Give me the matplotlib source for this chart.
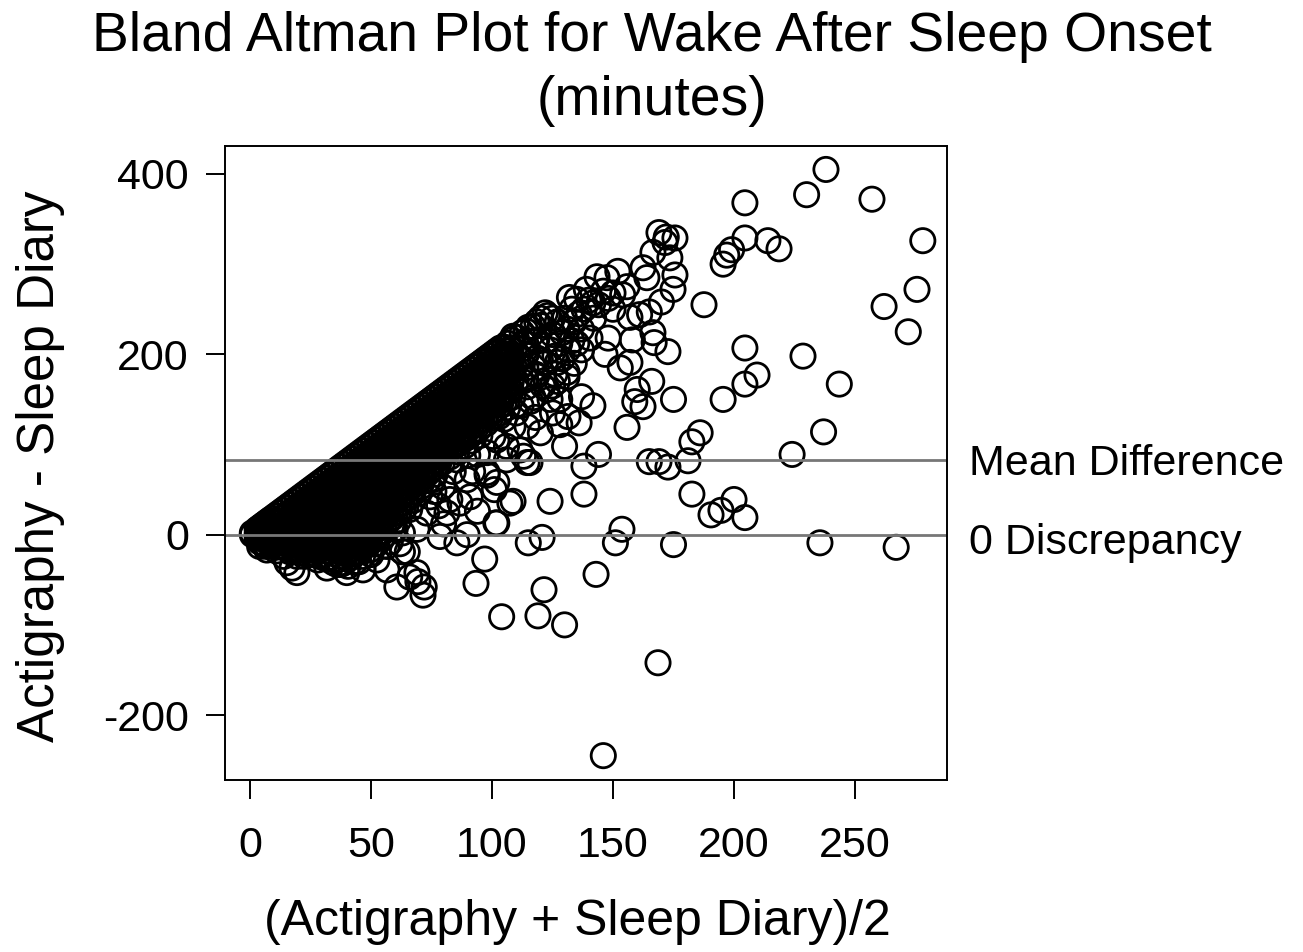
import matplotlib
matplotlib.use('Agg')
import matplotlib.pyplot as plt

title = 'Bland Altman Plot for Wake After Sleep Onset\n(minutes)'
xlabel = '(Actigraphy + Sleep Diary)/2'
ylabel = 'Actigraphy - Sleep Diary'
mean_diff = 83
xticks = [0, 50, 100, 150, 200, 250]
yticks = [-200, 0, 200, 400]

# black wedge, read by column: mean value and the differences found there
col_x = [1, 3, 5, 7, 9, 12, 15, 18, 21, 24, 27, 30, 33, 36, 39, 42, 45, 48, 51, 54,
         57, 60, 63, 66, 69, 72, 75, 78, 81, 84, 87, 90, 93, 96, 99, 102, 105, 108, 114]
col_y = [
    [2, 0],
    [6, 1, -4],
    [10, 4, -3, -9],
    [14, 7, 1, -6, -13],
    [18, 10, 3, -5, -12],
    [24, 15, 7, -1, -9],
    [30, 21, 12, 4, -5, -14],
    [36, 27, 18, 9, 0, -9, -17],
    [42, 33, 24, 15, 6, -3, -12, -20],
    [48, 39, 30, 21, 12, 3, -6, -15],
    [54, 45, 36, 28, 18, 9, 0, -9, -18],
    [60, 51, 42, 33, 24, 15, 6, -3, -12, -22],
    [66, 57, 48, 39, 30, 21, 12, 3, -6, -15, -25],
    [72, 63, 54, 45, 36, 27, 18, 9, 0, -9, -18, -28],
    [78, 69, 60, 51, 42, 33, 24, 15, 6, -3, -12, -21, -31],
    [84, 75, 66, 57, 48, 39, 30, 21, 12, 3, -6, -16, -25],
    [90, 81, 72, 63, 54, 45, 36, 27, 18, 9, 0, -9, -19],
    [96, 87, 78, 69, 60, 51, 42, 33, 24, 15, 6, -3, -12],
    [102, 93, 84, 75, 66, 57, 48, 39, 30, 21, 12, 3, -6],
    [108, 99, 90, 81, 72, 63, 54, 45, 36, 27, 18, 9, 3],
    [114, 105, 96, 87, 78, 69, 60, 51, 42, 33, 24, 15],
    [120, 111, 102, 93, 84, 75, 66, 57, 48, 39, 30, 24],
    [126, 117, 108, 99, 90, 81, 72, 63, 54, 45, 35],
    [132, 123, 114, 105, 96, 87, 78, 69, 60, 52, 44],
    [138, 129, 120, 111, 102, 93, 84, 75, 66, 58],
    [144, 135, 126, 117, 108, 99, 90, 81, 72, 65],
    [150, 141, 132, 123, 114, 105, 96, 87, 78, 72],
    [156, 147, 138, 129, 120, 111, 102, 93, 86, 79],
    [162, 153, 144, 135, 126, 117, 108, 100, 92],
    [168, 159, 150, 141, 132, 123, 114, 106, 98],
    [174, 165, 156, 147, 138, 129, 120, 110, 103],
    [180, 171, 162, 153, 144, 135, 126, 117, 108],
    [186, 177, 168, 159, 150, 141, 132, 122],
    [192, 183, 174, 165, 156, 147, 137, 128],
    [198, 189, 180, 171, 162, 153, 143, 133],
    [204, 195, 186, 177, 168, 159, 149],
    [208, 201, 192, 183, 174, 165, 155, 146],
    [216, 207, 198, 189, 180, 170, 160],
    [226, 212, 199, 185, 172],
]

# second pass over the wedge, between the columns above
col2_x = [4, 6, 8, 10.5, 13.5, 16.5, 19.5, 22.5, 25.5, 28.5, 31.5, 34.5, 37.5, 40.5, 43.5, 46.5,
          49.5, 52.5, 55.5, 58.5, 61.5, 64.5, 67.5, 70.5, 73.5, 76.5, 79.5, 82.5, 85.5, 88.5,
          91.5, 94.5, 97.5, 100.5, 103.5, 106.5, 112.5, 118.5]
col2_y = [
    [8, 3, -3, -8],
    [12, 7, 1, -5, -11],
    [16, 9, 3, -4, -10],
    [21, 13, 6, -2, -8, -14],
    [27, 19, 11, 3, -6, -13],
    [33, 24, 15, 7, -3, -12, -19],
    [39, 30, 21, 12, 3, -7, -16, -24],
    [45, 36, 27, 18, 9, 0, -9, -17, -24],
    [51, 42, 33, 24, 15, 6, -3, -12, -21],
    [57, 48, 39, 30, 21, 12, 3, -6, -15, -24],
    [63, 54, 45, 36, 27, 18, 9, 0, -9, -18, -27],
    [69, 60, 51, 42, 33, 24, 15, 6, -3, -12, -21, -31],
    [75, 66, 57, 48, 39, 30, 21, 12, 3, -6, -15, -24, -33],
    [81, 72, 63, 54, 45, 36, 27, 18, 9, 0, -9, -18, -27, -35],
    [87, 78, 69, 60, 51, 42, 33, 24, 15, 6, -3, -12, -21, -30],
    [93, 84, 75, 66, 57, 48, 39, 30, 21, 12, 3, -6, -15, -24],
    [99, 90, 81, 72, 63, 54, 45, 36, 27, 18, 9, 0, -9, -17],
    [105, 96, 87, 78, 69, 60, 51, 42, 33, 24, 15, 6, -3, -10],
    [111, 102, 93, 84, 75, 66, 57, 48, 39, 30, 21, 12, 4],
    [117, 108, 99, 90, 81, 72, 63, 54, 45, 36, 27, 18, 10],
    [123, 114, 105, 96, 87, 78, 69, 60, 51, 42, 33, 25, 16],
    [129, 120, 111, 102, 93, 84, 75, 66, 57, 48, 40, 32],
    [135, 126, 117, 108, 99, 90, 81, 72, 63, 55, 47, 38],
    [141, 132, 123, 114, 105, 96, 87, 78, 69, 61, 53],
    [147, 138, 129, 120, 111, 102, 93, 84, 75, 68, 60],
    [153, 144, 135, 126, 117, 108, 99, 90, 82, 75, 67],
    [159, 150, 141, 132, 123, 114, 105, 96, 88, 80],
    [165, 156, 147, 138, 129, 120, 111, 103, 95, 86],
    [171, 162, 153, 144, 135, 126, 117, 108, 100, 92],
    [177, 168, 159, 150, 141, 132, 123, 114, 106, 98],
    [183, 174, 165, 156, 147, 138, 129, 120, 112, 104],
    [189, 180, 171, 162, 153, 144, 135, 126, 117],
    [195, 186, 177, 168, 159, 150, 141, 132, 123],
    [201, 192, 183, 174, 165, 156, 147, 138, 129],
    [207, 198, 189, 180, 171, 162, 153, 144, 135],
    [212, 204, 195, 186, 177, 168, 159, 150, 141],
    [224, 206, 188, 170],
    [236, 216, 196, 176],
]

# rings that can be told apart
ring_x = [238, 230, 204.5, 257, 278, 214, 218.6, 204.5, 199, 195.5, 197, 262, 275.6, 272, 187.6,
          228.5, 204.5, 209.5, 204.5, 243.5, 195.5, 237, 224, 186, 182.6, 181, 175, 182.6, 190.5,
          194.6, 200, 204.5, 235.5, 267, 175, 165, 169, 172.7, 168.6, 146, 153.7, 151, 143, 144,
          138, 138, 124, 121.5, 119, 130, 104, 93.4, 97, 120.7, 115, 101.6, 107.4, 108.7,
          169, 172, 175.6, 171.5, 166.5, 173.5, 175.6, 174.8, 170, 162.4, 164, 152, 143.4, 147.5,
          155.8, 150, 154, 132, 139, 135, 141.7, 161, 157, 165, 166.5, 167, 172.7, 158, 148, 140.5,
          146.7, 153, 157, 166, 160, 159, 162.4, 137, 141.7, 131.4, 136, 128, 130, 155.8,
          122, 108.7, 117, 113, 122.7, 129, 131.4, 131, 127, 122.7, 120, 111.6, 106, 114.5, 108.7,
          102, 99, 103, 98, 103, 108.7, 120, 100.4, 115.7, 106, 111.6, 98, 101,
          94, 98, 94, 102, 78.5, 85.5, 89.7, 102, 89.7, 82.6, 86.8, 91, 81.4, 114.5,
          65, 60.7, 71.5, 72, 69, 66, 69.4, 56.6, 46.7, 40, 31.8, 19.4, 17.4, 15.3, 7, 4,
          63, 56.6, 52.5, 55, 63, 69, 73, 75.6, 74.4, 70, 79.7, 85.5, 88, 81.4, 102, 113, 114.5, 106, 98,
          123, 125, 127, 120, 125, 128, 124, 118, 126, 130, 133, 131, 134, 136, 137, 140, 138, 142,
          144, 146, 148, 150, 135, 129, 126, 121, 117, 124, 112, 105, 110, 118, 125, 95, 90, 92, 84,
          76, 78, 66, 60, 58, 62, 50, 45, 36, 28, 24, 11, 14, 52, 80,
          110, 115, 120, 108, 114, 118, 110, 116, 104, 122, 125, 128, 131, 134, 137, 133, 127]
ring_y = [405, 377, 368, 372, 326, 326, 317, 329, 316, 300, 310, 253, 272, 225, 255,
          198, 207, 177, 167, 167, 150, 114, 89, 113, 103, 82, 150, 45, 22,
          27, 39, 19, -9, -14, -11, 81, 81, 75, -142, -245, 6, -9, -44, 89,
          76, 45, 37, -61, -90, -100, -91, -54, -27, -3, -9, 13, 35, 37,
          335, 330, 329, 324, 313, 307, 288, 272, 258, 296, 285, 292, 286, 285,
          275, 268, 266, 263, 272, 261, 257, 244, 241, 247, 224, 213, 203, 216, 218, 218,
          200, 185, 191, 170, 161, 147.5, 142, 153, 143, 131, 124, 122, 98, 119,
          246, 220, 231, 213, 216, 224, 205, 180, 191, 161, 194, 186, 186, 164, 153,
          202, 194, 175, 142, 131, 120, 113, 109, 80, 83, 94, 69, 50,
          89, 66, 26, 13, -2, -9, 0, 58, 61, 39, 35, 42, 24, 80,
          -19, -58, -67, -58, -42, -47, -52, -39, -39, -42, -37, -42, -37, -31, -17, -13,
          -19, -13, -28, -2, 2, 6, 24, 61, 42, 46, 53, 83, 109, 98, 105, 87, 120, 98, 91,
          243, 240, 236, 232, 222, 212, 205, 214, 198, 240, 250, 228, 236, 245, 228, 260, 250, 240,
          255, 270, 262, 250, 212, 195, 178, 165, 152, 150, 143, 128, 135, 130, 135, 110, 88, 70, 70,
          48, 32, 28, 6, -8, -10, -22, -30, -33, -28, -22, -18, -24, -10, 12,
          219, 230, 240, 195, 200, 178, 170, 148, 150, 190, 165, 150, 175, 190, 205, 215, 170]

dense_x = []
dense_y = []
for x, ys in list(zip(col_x, col_y)) + list(zip(col2_x, col2_y)):
    dense_x += [x] * len(ys)
    dense_y += ys

plt.rcParams['font.family'] = ['Liberation Sans', 'DejaVu Sans']
plt.rcParams['axes.unicode_minus'] = False

fig = plt.figure(figsize=(13.03, 9.52), dpi=100)
ax = fig.add_axes([225 / 1303, 1 - 780 / 952, (947 - 225) / 1303, (780 - 146) / 952])

ax.scatter(dense_x, dense_y, s=305, facecolors='none', edgecolors='black', linewidths=2, clip_on=False)
ax.scatter(ring_x, ring_y, s=305, facecolors='none', edgecolors='black', linewidths=2, clip_on=False)
ax.axhline(mean_diff, color='#777777', lw=2)
ax.axhline(0, color='#777777', lw=2)

ax.set_xlim(-10.3, 288)
ax.set_ylim(-272, 431)
ax.set_xticks(xticks)
ax.set_yticks(yticks)
ax.tick_params(length=14, width=1.4, labelsize=31)
ax.tick_params(axis='x', pad=19)
ax.tick_params(axis='y', pad=12)
for s in ax.spines.values():
    s.set_linewidth(1.4)

ax.text(1.03, 78, 'Mean Difference', transform=ax.get_yaxis_transform(), fontsize=31, va='center')
ax.text(1.03, -9, '0 Discrepancy', transform=ax.get_yaxis_transform(), fontsize=31, va='center')

fig.text(652 / 1303, 1 - 69 / 952, title, fontsize=39.8, ha='center', va='center', linespacing=1.3)
fig.text(577 / 1303, 1 - 922 / 952, xlabel, fontsize=36, ha='center', va='center')
fig.text(41 / 1303, 1 - 466 / 952, ylabel, fontsize=36.8, rotation=90, ha='center', va='center')

fig.savefig('out.png', dpi=100)
